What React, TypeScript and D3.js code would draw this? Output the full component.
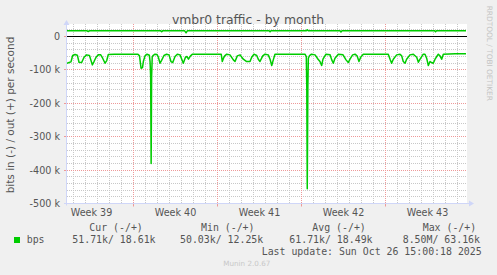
import React from "react";
import * as d3 from "d3";

const W = 497;
const H = 275;

const title = "vmbr0 traffic - by month";
const yAxisTitle = "bits in (-) / out (+) per second";
const sideText = "RRDTOOL / TOBI OETIKER";
const footer = "Munin 2.0.67";
const lastUpdate = "Last update: Sun Oct 26 15:00:18 2025";

// y axis tick values (bps) and labels
const yTickValues = [0, -100000, -200000, -300000, -400000, -500000];
const yTickLabels = ["0", "-100 k", "-200 k", "-300 k", "-400 k", "-500 k"];
const weekNames = ["Week 39", "Week 40", "Week 41", "Week 42", "Week 43"];

// time: fractional days since Mon 22 Sep 2025 00:00; values in kbps
const viewStartDay = 1.4583;
const viewEndDay = 34.7917;
const yMinBps = -500000;
const yMaxBps = 37400;

const bitsIn: [number, number][] = [
  [1.46, -80], [1.63, -78], [1.79, -76], [1.93, -57], [2.13, -54], [2.32, -56], [2.46, -77], [2.68, -78],
  [2.88, -62], [3.1, -55], [3.33, -57], [3.57, -85], [3.71, -75], [3.88, -62], [4.07, -55], [4.27, -55],
  [4.43, -65], [4.63, -80], [4.77, -72], [4.9, -54], [5.4, -53], [6.4, -53], [7.37, -53],
  [7.5, -58], [7.63, -95], [7.75, -93], [7.82, -75], [7.96, -58], [8.13, -53], [8.32, -56], [8.38, -75],
  [8.43, -120], [8.47, -380], [8.51, -120], [8.56, -62], [8.62, -57], [8.79, -53], [8.96, -54], [9.07, -62],
  [9.21, -80], [9.33, -72], [9.54, -57], [9.76, -53], [9.96, -55], [10.12, -75], [10.27, -78], [10.46, -60],
  [10.65, -53], [10.88, -55], [11.02, -68], [11.15, -80], [11.33, -62], [11.46, -60], [11.58, -68], [11.75, -58],
  [11.92, -53], [13.0, -53], [14.31, -53],
  [14.4, -75], [14.5, -65], [14.6, -58], [14.77, -53], [15.04, -55], [15.32, -70], [15.46, -75], [15.65, -58],
  [15.88, -55], [16.15, -68], [16.43, -75], [16.71, -75], [16.85, -62], [17.04, -53], [17.27, -57], [17.4, -68],
  [17.54, -75], [17.77, -58], [17.96, -53], [18.23, -55], [18.38, -68], [18.52, -87], [18.65, -70], [18.79, -53],
  [20.0, -53], [21.29, -53],
  [21.4, -60], [21.44, -150], [21.48, -456], [21.53, -150], [21.57, -65], [21.67, -57], [21.83, -53], [22.13, -55],
  [22.38, -68], [22.54, -75], [22.68, -87], [22.79, -68], [23.04, -53], [23.38, -55], [23.52, -70], [23.65, -80],
  [23.79, -65], [24.07, -53], [24.46, -55], [24.71, -70], [24.9, -78], [25.04, -68], [25.26, -55], [25.46, -53],
  [25.63, -58], [25.79, -75], [25.93, -62], [26.15, -53], [27.2, -53], [28.23, -53],
  [28.38, -68], [28.51, -80], [28.65, -68], [28.93, -55], [29.21, -53], [29.35, -58], [29.48, -75], [29.63, -80],
  [29.76, -68], [30.04, -55], [30.32, -53], [30.6, -62], [30.74, -77], [30.88, -68], [31.15, -53], [31.29, -53],
  [31.43, -65], [31.57, -87], [31.71, -75], [31.85, -78], [31.98, -80], [32.13, -68], [32.27, -60], [32.4, -53],
  [32.54, -58], [32.68, -68], [32.82, -53], [33.8, -52], [34.71, -52],
];

const bitsOut: [number, number][] = [
  [1.46, 17.5], [3.1, 17.5], [3.23, 15], [3.36, 17.5], [9.25, 17.5], [9.35, 14], [9.45, 17.5],
  [11.25, 17.5], [11.38, 11], [11.5, 17.5], [18.3, 17.5], [18.38, 14], [18.46, 17.5], [21.4, 17.5],
  [21.48, 20], [21.56, 17.5], [24.2, 17.5], [24.29, 13.5], [24.38, 17.5], [32.1, 17.5], [32.17, 14.5],
  [32.25, 17.5], [34.71, 17.5],
];

const legendHeaders = ["Cur (-/+)", "Min (-/+)", "Avg (-/+)", "Max (-/+)"];
const legendValues = ["51.71k/ 18.61k", "50.03k/ 12.25k", "61.71k/ 18.49k", "8.50M/ 63.16k"];
const seriesName = "bps";

const GREEN = "#00cc00";
const TEXT = "#555555";
const AXIS = "#cfd6f8";
const GRID = "#c8c8c8";
const MGRID = "#ee9999";
const SANS = "'DejaVu Sans', sans-serif";
const MONO = "'DejaVu Sans Mono', monospace";

export default function App() {
  const origin = new Date(2025, 8, 22).getTime();
  const toDate = (d: number) => new Date(origin + d * 86400000);

  const plot = { left: 67, right: 467, top: 24, bottom: 203.5 };
  const x = d3
    .scaleTime()
    .domain([toDate(viewStartDay), toDate(viewEndDay)])
    .range([plot.left, plot.right]);
  const y = d3.scaleLinear().domain([yMinBps, yMaxBps]).range([plot.bottom, plot.top]);

  const crispX = (v: Date) => Math.floor(x(v)) + 0.5;
  const crispY = (v: number) => Math.floor(y(v)) + 0.5;

  const [d0, d1] = x.domain();
  const days = d3.timeDay.range(d0, d1);
  const mondays = d3.timeMonday.range(d3.timeDay.offset(d0, -7), d1);

  const hValues = d3.range(yMinBps + 20000, yMaxBps, 20000);

  const line = d3
    .line<[number, number]>()
    .x((p) => x(toDate(p[0])))
    .y((p) => y(p[1] * 1000));

  const colHeaderX = [89.3, 201, 312.3, 422.7];
  const colValueX = [72.3, 180, 289.3, 402.7];

  return (
    <svg
      width={W}
      height={H}
      viewBox={`0 0 ${W} ${H}`}
      style={{ position: "absolute", left: 0, top: 0, display: "block" }}
    >
      <rect x={0} y={0} width={W} height={H} fill="#f0f0f0" />
      <rect
        x={plot.left}
        y={plot.top}
        width={plot.right - plot.left}
        height={plot.bottom - plot.top}
        fill="#ffffff"
      />
      <defs>
        <clipPath id="plotclip">
          <rect x={plot.left} y={plot.top - 2} width={plot.right - plot.left} height={plot.bottom - plot.top + 2} />
        </clipPath>
      </defs>

      {/* minor horizontal grid */}
      {hValues
        .filter((v) => v % 100000 !== 0)
        .map((v) => (
          <line
            key={"hm" + v}
            x1={plot.left}
            x2={plot.right}
            y1={crispY(v)}
            y2={crispY(v)}
            stroke={GRID}
            strokeWidth={1}
            strokeDasharray="1,1"
          />
        ))}
      {/* minor vertical grid */}
      {days.map((d) => (
        <line
          key={"vm" + d.getTime()}
          x1={crispX(d)}
          x2={crispX(d)}
          y1={plot.top}
          y2={plot.bottom}
          stroke={GRID}
          strokeWidth={1}
          strokeDasharray="1,1"
        />
      ))}
      {/* major horizontal grid */}
      {hValues
        .filter((v) => v % 100000 === 0)
        .map((v) => (
          <g key={"hM" + v}>
            <line
              x1={plot.left}
              x2={plot.right}
              y1={crispY(v)}
              y2={crispY(v)}
              stroke={MGRID}
              strokeWidth={1}
              strokeDasharray="1,1"
            />
            <line x1={plot.left - 3} x2={plot.left} y1={crispY(v)} y2={crispY(v)} stroke={MGRID} strokeWidth={1} />
          </g>
        ))}
      {/* major vertical grid */}
      {mondays
        .filter((d) => d >= d0 && d <= d1)
        .map((d) => (
          <g key={"vM" + d.getTime()}>
            <line
              x1={crispX(d)}
              x2={crispX(d)}
              y1={plot.top}
              y2={plot.bottom}
              stroke={MGRID}
              strokeWidth={1}
              strokeDasharray="1,1"
            />
            <line x1={crispX(d)} x2={crispX(d)} y1={plot.bottom} y2={plot.bottom + 3} stroke={MGRID} strokeWidth={1} />
          </g>
        ))}

      {/* data lines */}
      <g clipPath="url(#plotclip)">
        <line x1={plot.left} x2={plot.right} y1={crispY(0)} y2={crispY(0)} stroke="#000000" strokeWidth={1} />
        <path d={line(bitsOut) || ""} fill="none" stroke={GREEN} strokeWidth={1.5} strokeLinejoin="round" />
        <path d={line(bitsIn) || ""} fill="none" stroke={GREEN} strokeWidth={1.5} strokeLinejoin="round" />
      </g>

      {/* axes */}
      <line x1={plot.left - 0.5} x2={plot.left - 0.5} y1={plot.bottom + 2} y2={plot.top - 1} stroke={AXIS} strokeWidth={1} />
      <path
        d={`M${plot.left - 3.5},${plot.top + 1} L${plot.left + 2.5},${plot.top + 1} L${plot.left - 0.5},${plot.top - 4} Z`}
        fill={AXIS}
      />
      <line x1={plot.left - 3} x2={plot.right + 3} y1={plot.bottom} y2={plot.bottom} stroke={AXIS} strokeWidth={1} />
      <path
        d={`M${plot.right + 2},${plot.bottom - 3} L${plot.right + 2},${plot.bottom + 3} L${plot.right + 7},${plot.bottom} Z`}
        fill={AXIS}
      />

      {/* y tick labels */}
      {yTickValues.map((v, i) => (
        <text key={"yl" + v} x={60} y={y(v) + 3.5} textAnchor="end" fontFamily={SANS} fontSize={9.6} fill={TEXT}>
          {yTickLabels[i]}
        </text>
      ))}

      {/* week labels */}
      {mondays.map((d, i) => {
        const mid = d3.timeHour.offset(d, 84);
        const cx = x(mid);
        if (cx < plot.left || cx > plot.right) return null;
        return (
          <text key={"wk" + i} x={cx} y={215.5} textAnchor="middle" fontFamily={SANS} fontSize={9.6} fill={TEXT}>
            {weekNames[i]}
          </text>
        );
      })}

      {/* title */}
      <text x={248} y={24} textAnchor="middle" fontFamily={SANS} fontSize={12.4} fill={TEXT}>
        {title}
      </text>

      {/* y axis title */}
      <text transform="translate(14,115) rotate(-90)" textAnchor="middle" fontFamily={SANS} fontSize={10.5} fill={TEXT}>
        {yAxisTitle}
      </text>

      {/* side text */}
      <text transform="translate(486.5,53.3) rotate(90)" textAnchor="middle" fontFamily={SANS} fontSize={7.4} fill="#c4c4c4">
        {sideText}
      </text>

      {/* legend */}
      {legendHeaders.map((h, i) => (
        <text key={"lh" + i} x={colHeaderX[i]} y={231} fontFamily={MONO} fontSize={9.9} fill={TEXT} style={{ whiteSpace: "pre" }}>
          {h}
        </text>
      ))}
      <rect x={14} y={237} width={6} height={6} fill={GREEN} />
      <text x={26.7} y={243} fontFamily={MONO} fontSize={9.9} fill={TEXT}>
        {seriesName}
      </text>
      {legendValues.map((v, i) => (
        <text key={"lv" + i} x={colValueX[i]} y={243} fontFamily={MONO} fontSize={9.9} fill={TEXT} style={{ whiteSpace: "pre" }}>
          {v}
        </text>
      ))}
      <text x={261.7} y={255} fontFamily={MONO} fontSize={9.9} fill={TEXT} style={{ whiteSpace: "pre" }}>
        {lastUpdate}
      </text>
      <text x={223.3} y={266} fontFamily={SANS} fontSize={7.2} fill="#c8c8c8">
        {footer}
      </text>
    </svg>
  );
}
